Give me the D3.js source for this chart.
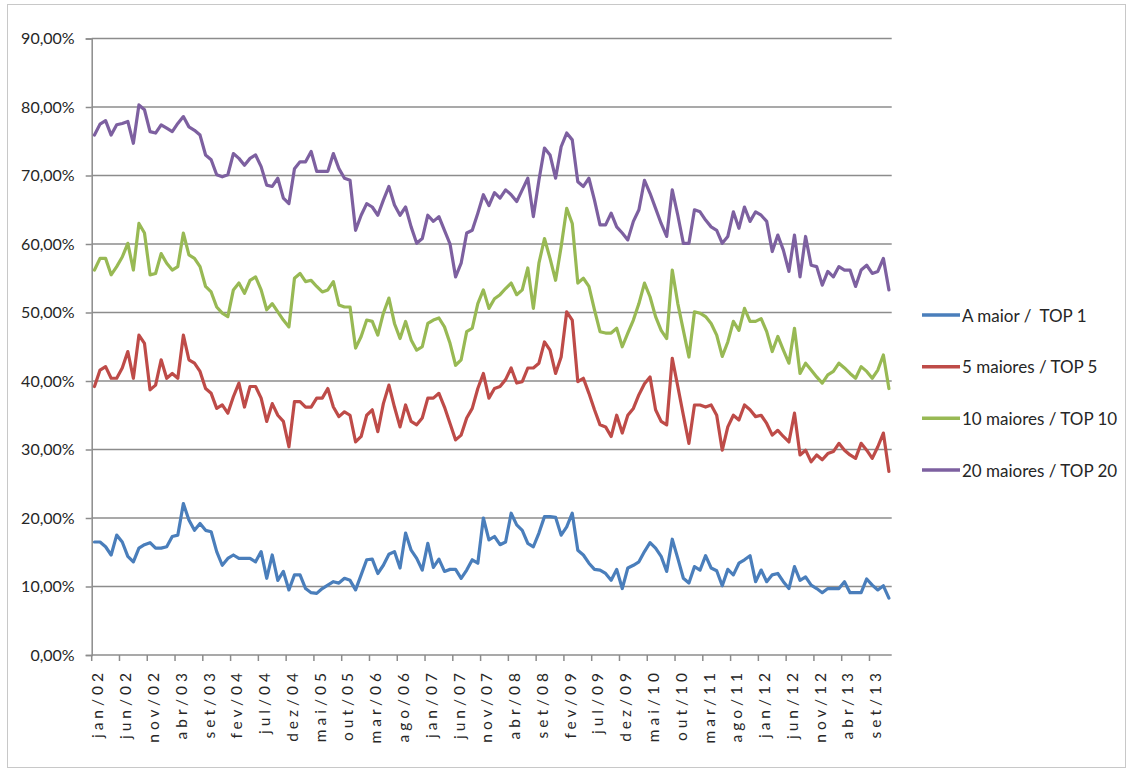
<!DOCTYPE html>
<html>
<head>
<meta charset="utf-8">
<script src="https://cdn.jsdelivr.net/npm/d3@7"></script>
<style>
  body { margin: 0; background: #ffffff; }
  svg { display: block; }
  text { font-family: Lato, "Open Sans", "Liberation Sans", sans-serif; fill: #262626; }
</style>
</head>
<body>
<svg id="chart" width="1130" height="772"></svg>
<script>
// Monthly categories, jan/02 .. dez/13
const monthAbbr = ["jan","fev","mar","abr","mai","jun","jul","ago","set","out","nov","dez"];
const years = ["02","03","04","05","06","07","08","09","10","11","12","13"];
const categories = [];
years.forEach(yy => monthAbbr.forEach(m => categories.push(m + "/" + yy)));

// Labelled months on the horizontal axis (every fifth month)
const tickLabels = ["jan/02","jun/02","nov/02","abr/03","set/03","fev/04","jul/04","dez/04",
  "mai/05","out/05","mar/06","ago/06","jan/07","jun/07","nov/07","abr/08","set/08","fev/09",
  "jul/09","dez/09","mai/10","out/10","mar/11","ago/11","jan/12","jun/12","nov/12","abr/13","set/13"];

const yTicks = [0, 0.1, 0.2, 0.3, 0.4, 0.5, 0.6, 0.7, 0.8, 0.9];

// Market share (%) per month
const top1 = [
  16.5,16.5,15.8,14.6,17.5,16.5,14.4,13.6,15.6,16.1,
  16.4,15.6,15.6,15.8,17.3,17.5,22.1,19.7,18.2,19.2,
  18.2,18.0,15.1,13.1,14.1,14.6,14.1,14.1,14.1,13.6,
  15.1,11.2,14.6,10.9,12.2,9.5,11.7,11.7,9.7,9.1,
  9.0,9.7,10.2,10.7,10.5,11.2,10.9,9.5,11.7,13.9,
  14.0,11.9,13.1,14.7,15.1,12.7,17.8,15.3,14.1,12.4,
  16.3,12.8,14.0,12.2,12.5,12.5,11.2,12.4,13.9,13.4,
  20.0,16.8,17.3,16.1,16.5,20.7,19.0,18.2,16.3,15.8,
  17.8,20.2,20.2,20.1,17.5,18.7,20.7,15.3,14.6,13.4,
  12.5,12.4,11.9,10.9,12.5,9.7,12.7,13.1,13.6,15.1,
  16.4,15.6,14.4,12.2,16.9,14.1,11.2,10.5,12.9,12.4,
  14.5,12.7,12.3,10.1,12.5,11.7,13.4,13.9,14.5,10.7,
  12.4,10.7,11.7,11.9,10.7,9.7,12.9,10.9,11.4,10.2,
  9.7,9.1,9.7,9.7,9.7,10.7,9.1,9.1,9.1,11.1,
  10.2,9.5,10.1,8.3
];
const top5 = [
  39.2,41.6,42.1,40.4,40.4,41.9,44.3,40.4,46.7,45.5,
  38.7,39.4,43.1,40.4,41.1,40.4,46.7,43.1,42.6,41.4,
  38.9,38.2,36.0,36.5,35.3,37.7,39.7,36.2,39.2,39.2,
  37.5,34.1,36.7,35.0,34.1,30.4,37.0,37.0,36.2,36.2,
  37.5,37.5,38.9,36.2,34.8,35.5,35.0,31.1,31.9,35.0,
  35.8,32.6,36.7,39.4,36.2,33.3,36.5,34.1,33.6,34.6,
  37.5,37.5,38.2,36.2,33.8,31.4,32.1,34.6,36.0,38.9,
  41.1,37.5,38.9,39.2,40.2,41.9,39.7,39.9,41.9,41.9,
  42.6,45.7,44.5,41.1,43.5,50.1,48.9,39.9,40.4,38.2,
  35.8,33.6,33.3,31.9,35.0,32.4,35.0,36.0,38.0,39.6,
  40.6,35.8,34.1,33.6,43.3,39.2,35.0,30.9,36.5,36.5,
  36.2,36.5,35.0,29.9,33.3,35.0,34.3,36.5,35.8,34.8,
  35.0,33.8,32.1,32.8,31.9,31.1,35.3,29.2,29.9,28.2,
  29.2,28.5,29.4,29.7,30.9,29.9,29.2,28.7,30.9,29.9,
  28.7,30.4,32.4,26.8
];
const top10 = [
  56.2,57.9,57.9,55.5,56.7,58.1,60.1,56.2,63.0,61.6,
  55.5,55.7,58.6,57.2,56.2,56.7,61.6,58.4,57.9,56.7,
  53.8,53.0,50.8,49.9,49.4,53.3,54.3,52.8,54.7,55.2,
  53.3,50.4,51.3,50.1,48.9,47.9,55.0,55.7,54.5,54.7,
  53.8,53.0,53.3,54.5,51.1,50.8,50.8,44.8,46.5,48.9,
  48.7,46.7,49.9,52.1,48.4,46.2,48.7,46.0,44.5,45.0,
  48.4,48.9,49.2,47.9,45.5,42.3,43.1,47.2,47.7,51.3,
  53.3,50.6,52.0,52.6,53.5,54.3,52.6,53.3,56.5,50.6,
  57.2,60.8,57.9,54.7,59.6,65.2,63.0,54.3,55.0,53.8,
  50.4,47.2,47.0,47.0,47.7,45.0,47.0,48.9,51.3,54.3,
  52.3,49.4,47.4,46.2,56.2,51.3,47.4,43.5,50.1,49.9,
  49.4,48.4,46.7,43.6,45.7,48.7,47.4,50.6,48.7,48.7,
  49.1,47.2,44.3,46.5,44.5,42.6,47.7,41.1,42.6,41.6,
  40.6,39.7,40.9,41.4,42.6,41.9,41.1,40.4,42.1,41.4,
  40.4,41.6,43.8,38.9
];
const top20 = [
  75.9,77.5,78.0,75.9,77.4,77.6,77.9,74.7,80.3,79.6,
  76.4,76.2,77.4,76.9,76.4,77.6,78.6,77.1,76.6,75.9,
  73.0,72.3,70.1,69.8,70.1,73.2,72.5,71.5,72.5,73.0,
  71.3,68.6,68.4,69.6,66.7,65.9,71.0,72.0,72.0,73.5,
  70.6,70.6,70.6,73.2,71.0,69.6,69.3,62.0,64.2,65.9,
  65.4,64.2,66.4,68.4,65.7,64.2,65.4,62.5,60.1,60.8,
  64.2,63.3,64.0,62.0,60.0,55.2,57.2,61.6,62.0,64.5,
  67.2,65.6,67.5,66.7,67.9,67.2,66.2,67.9,69.6,64.0,
  69.3,74.0,73.0,69.6,74.2,76.2,75.2,69.1,68.4,69.6,
  66.4,62.8,62.8,64.5,62.5,61.6,60.6,63.3,65.0,69.3,
  67.4,65.2,63.0,61.1,67.9,64.2,60.1,60.1,65.0,64.7,
  63.5,62.5,62.0,60.1,61.1,64.7,62.3,65.4,63.3,64.7,
  64.2,63.3,58.9,61.3,59.1,56.0,61.3,55.2,61.1,56.9,
  56.7,54.0,56.0,55.2,56.7,56.2,56.2,53.8,56.2,56.9,
  55.7,56.0,57.9,53.3
];

const seriesNames = ["A maior /  TOP 1", "5 maiores / TOP 5", "10 maiores / TOP 10", "20 maiores / TOP 20"];
const seriesColors = ["#4a7ebb", "#be4b48", "#98b954", "#7d60a0"];
const seriesValues = [top1, top5, top10, top20];

const svg = d3.select("#chart");

// outer frame
svg.append("rect")
  .attr("x", 7.5).attr("y", 4.5).attr("width", 1118).attr("height", 763)
  .attr("fill", "none").attr("stroke", "#c8c8c8").attr("stroke-width", 1);

const plot = { left: 91.7, right: 891.7, top: 38.5, bottom: 655 };

const x = d3.scaleBand().domain(categories).range([plot.left, plot.right]).padding(0);
const y = d3.scaleLinear().domain([0, 0.9]).range([plot.bottom, plot.top]);

const ptBR = d3.formatLocale({ decimal: ",", thousands: ".", grouping: [3], currency: ["R$", ""] });
const pct = ptBR.format(".2%");

// horizontal gridlines
svg.append("g").selectAll("line")
  .data(yTicks.filter(v => v > 0))
  .join("line")
  .attr("x1", plot.left).attr("x2", plot.right)
  .attr("y1", d => y(d)).attr("y2", d => y(d))
  .attr("stroke", "#8c8c8c").attr("stroke-width", 1.5);

// vertical axis
const yAxis = svg.append("g")
  .attr("transform", `translate(${plot.left},0)`)
  .call(d3.axisLeft(y).tickValues(yTicks).tickFormat(pct).tickSize(6).tickPadding(11));
yAxis.select(".domain").attr("stroke", "#8c8c8c").attr("stroke-width", 1.5);
yAxis.selectAll(".tick line").attr("stroke", "#8c8c8c").attr("stroke-width", 1.5);
yAxis.selectAll(".tick text")
  .attr("font-size", 16).attr("fill", "#262626")
  .style("font-family", "Lato, 'Open Sans', sans-serif");

// horizontal axis: labels centred on months
const xAxis = svg.append("g")
  .attr("transform", `translate(0,${plot.bottom})`)
  .call(d3.axisBottom(x).tickValues(tickLabels).tickSize(0).tickPadding(0));
xAxis.select(".domain").remove();
xAxis.selectAll(".tick text")
  .attr("font-size", 15.5)
  .attr("fill", "#262626")
  .style("font-family", "Lato, 'Open Sans', sans-serif")
  .style("letter-spacing", "4px")
  .attr("text-anchor", "end")
  .attr("dominant-baseline", "central")
  .attr("transform", "translate(3,14) rotate(-90)")
  .attr("x", 0).attr("y", 0).attr("dy", null);

svg.append("line")
  .attr("x1", plot.left).attr("x2", plot.right)
  .attr("y1", plot.bottom).attr("y2", plot.bottom)
  .attr("stroke", "#8c8c8c").attr("stroke-width", 1.5);

// tick marks at month boundaries, every fifth month
const boundaryTicks = categories.filter((c, i) => i % 5 === 0);
svg.append("g").selectAll("line")
  .data(boundaryTicks)
  .join("line")
  .attr("x1", d => x(d)).attr("x2", d => x(d))
  .attr("y1", plot.bottom).attr("y2", plot.bottom + 6)
  .attr("stroke", "#8c8c8c").attr("stroke-width", 1.5);

// series lines
const line = d3.line()
  .x((d, i) => x(categories[i]) + x.bandwidth() / 2)
  .y(d => y(d / 100));

svg.append("g").selectAll("path")
  .data(seriesValues)
  .join("path")
  .attr("d", d => line(d))
  .attr("fill", "none")
  .attr("stroke", (d, i) => seriesColors[i])
  .attr("stroke-width", 3.2)
  .attr("stroke-linejoin", "round")
  .attr("stroke-linecap", "round");

// legend
const legendY = [315, 366.7, 418.3, 470];
const legend = svg.append("g").selectAll("g")
  .data(seriesNames)
  .join("g")
  .attr("transform", (d, i) => `translate(922,${legendY[i]})`);
legend.append("line")
  .attr("x1", 0).attr("x2", 38).attr("y1", 0).attr("y2", 0)
  .attr("stroke", (d, i) => seriesColors[i]).attr("stroke-width", 3.5);
legend.append("text")
  .attr("x", 40).attr("y", 0)
  .attr("dominant-baseline", "central")
  .attr("font-size", 17)
  .style("white-space", "pre")
  .text(d => d);
</script>
</body>
</html>
